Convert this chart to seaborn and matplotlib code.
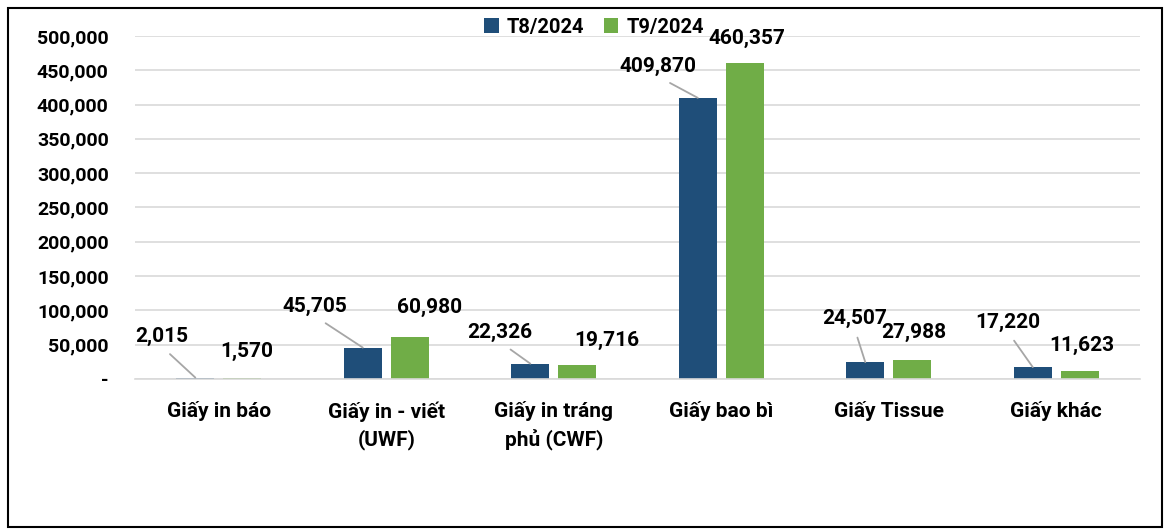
import matplotlib
matplotlib.use("Agg")
import matplotlib.pyplot as plt
import matplotlib.ticker as mticker
from matplotlib.patches import Rectangle
import pandas as pd
import seaborn as sns

# data
categories = ["Giấy in báo", "Giấy in - viết\n(UWF)", "Giấy in tráng\nphủ (CWF)",
              "Giấy bao bì", "Giấy Tissue", "Giấy khác"]
periods = ["T8/2024", "T9/2024"]
t8_values = [2015, 45705, 22326, 409870, 24507, 17220]
t9_values = [1570, 60980, 19716, 460357, 27988, 11623]

colors = ["#1F4E79", "#70AD47"]
# label offsets from the bar top (pixels), only style
t8_offsets = [(-34, 41), (-48, 41), (-30, 31), (-40, 31), (-11, 44), (-25, 45)]
t9_offsets = [(5, 26), (20, 30), (30, 25), (2, 25), (2, 27), (2, 26)]

df = pd.DataFrame({
    "category": categories * 2,
    "period": [periods[0]] * len(categories) + [periods[1]] * len(categories),
    "value": t8_values + t9_values,
})

sns.set_theme(style="white")
plt.rcParams["font.family"] = ["Roboto", "DejaVu Sans"]
plt.rcParams["font.weight"] = "bold"
plt.rcParams["text.color"] = "black"

fig = plt.figure(figsize=(11.65, 5.3), dpi=100)
ax = fig.add_axes([0.1159, 0.285, 0.8626, 0.647])

sns.barplot(data=df, x="category", y="value", hue="period", palette=colors,
            width=0.56, gap=0.19, saturation=1, linewidth=0, ax=ax)

ax.set_ylim(0, 500000)
ax.set_yticks(range(0, 500001, 50000))
ax.yaxis.set_major_formatter(mticker.FuncFormatter(
    lambda v, p: "-" if v == 0 else f"{v:,.0f}"))
ax.grid(axis="y", color="#D9D9D9", lw=1.2)
ax.set_axisbelow(True)
for s in ["top", "right", "left"]:
    ax.spines[s].set_visible(False)
ax.spines["bottom"].set_color("#D9D9D9")
ax.spines["bottom"].set_linewidth(1.2)
ax.tick_params(axis="y", length=0, pad=19, labelsize=14, labelcolor="black")
ax.tick_params(axis="x", length=0, pad=16, labelsize=15, labelcolor="black")
for lab in ax.get_xticklabels():
    lab.set_linespacing(1.5)
    lab.set_fontweight("bold")
for lab in ax.get_yticklabels():
    lab.set_fontweight("bold")
ax.set_xlabel("")
ax.set_ylabel("")

# data labels
for cont, offs, leader in [(ax.containers[0], t8_offsets, True),
                           (ax.containers[1], t9_offsets, False)]:
    for bar, (dx, dy) in zip(cont, offs):
        h = bar.get_height()
        x = bar.get_x() + bar.get_width() / 2
        kw = {}
        if leader:
            kw["arrowprops"] = dict(arrowstyle="-", color="#A6A6A6", lw=1.3,
                                    relpos=(0.5, 0), shrinkA=5, shrinkB=0)
        ax.annotate(f"{h:,.0f}", xy=(x, h), xytext=(dx, dy),
                    textcoords="offset pixels", ha="center", va="center",
                    fontsize=15, fontweight="bold", color="black", **kw)

sns.move_legend(ax, "center", bbox_to_anchor=(0.51, 0.949),
                bbox_transform=fig.transFigure, ncol=2, frameon=False,
                title=None, fontsize=14.5, handlelength=0.7, handleheight=0.7,
                handletextpad=0.4, columnspacing=1.0)
for t in ax.get_legend().get_texts():
    t.set_fontweight("bold")

fig.patches.append(Rectangle((0.007, 0.006), 0.99, 0.979, transform=fig.transFigure,
                             fill=False, edgecolor="black", lw=1.5))

fig.savefig("out.png", dpi=100)
